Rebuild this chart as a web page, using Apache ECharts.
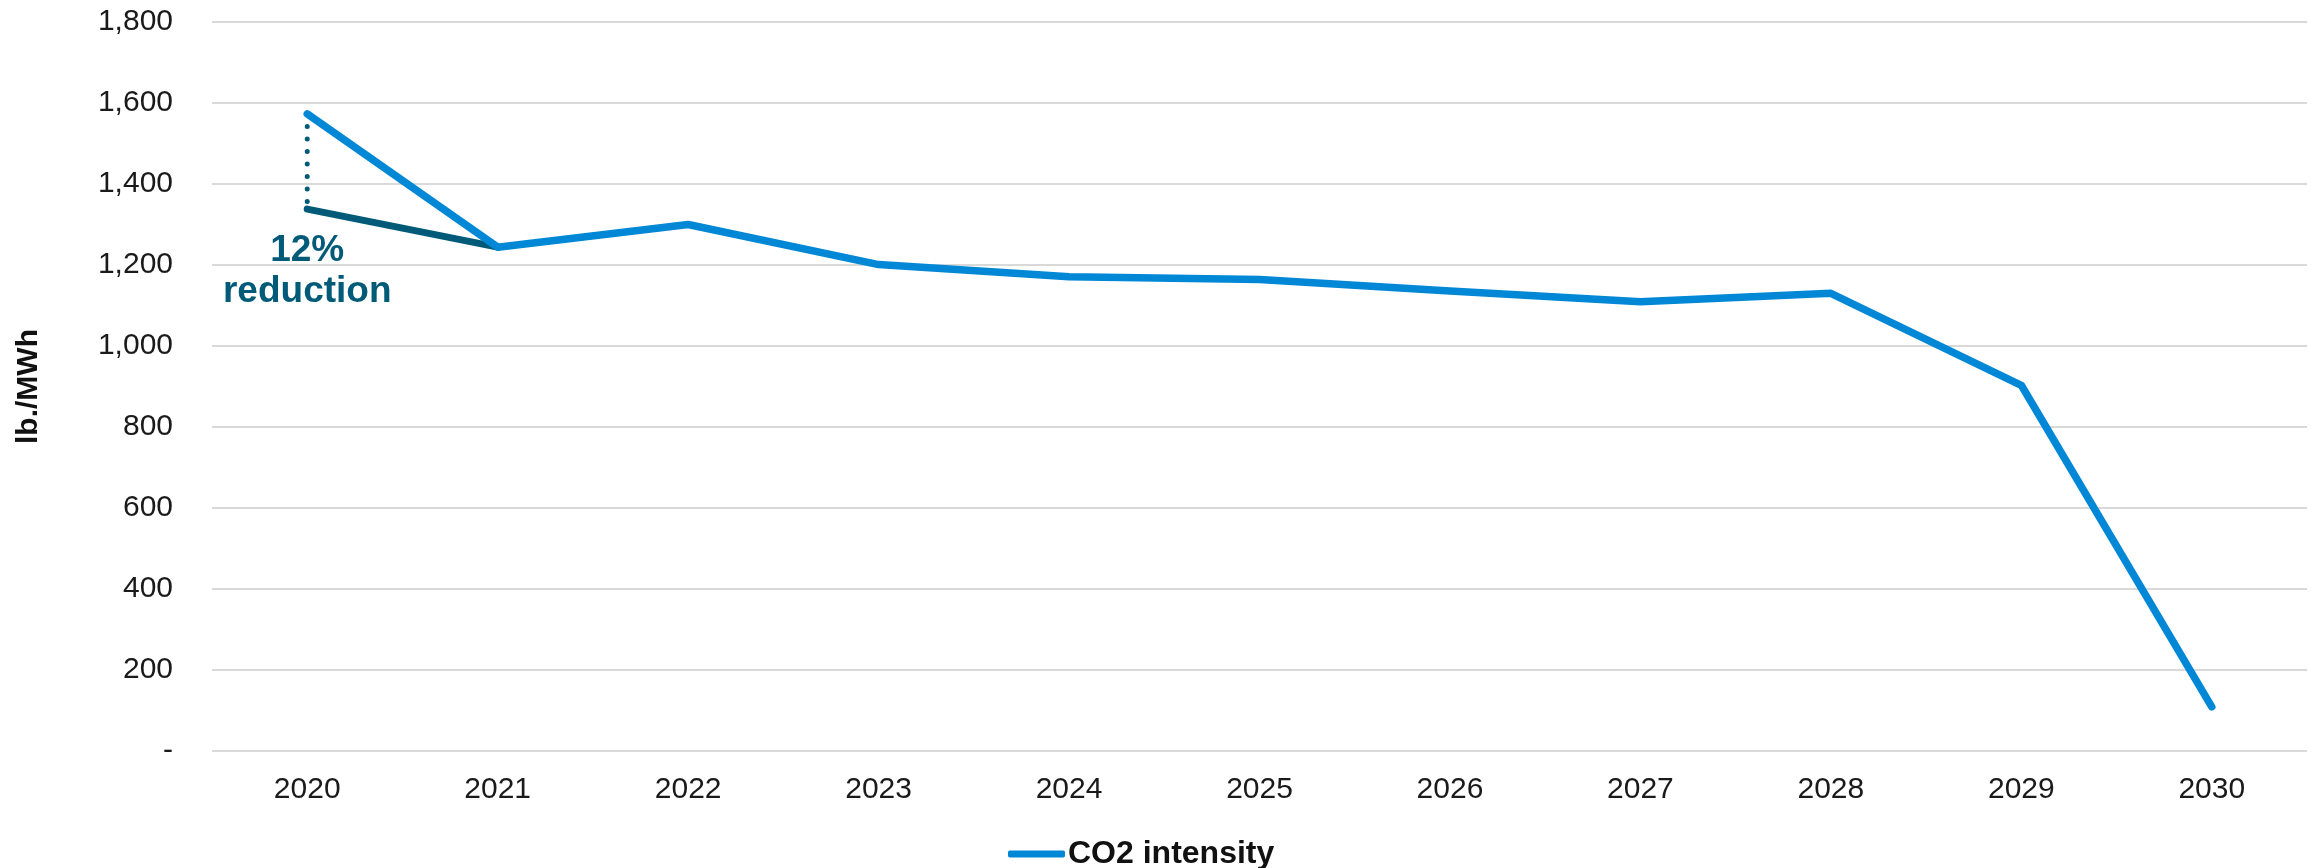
<!DOCTYPE html>
<html>
<head>
<meta charset="utf-8">
<title>CO2 intensity</title>
<script src="https://cdn.jsdelivr.net/npm/echarts@6/dist/echarts.min.js"></script>
<style>
  html, body { margin: 0; padding: 0; background: #ffffff; }
  #chart { width: 2318px; height: 868px; }
</style>
</head>
<body>
<div id="chart"></div>
<script>
// Years on the horizontal axis
const years = ['2020', '2021', '2022', '2023', '2024', '2025', '2026', '2027', '2028', '2029', '2030'];

// CO2 intensity, lb./MWh
const co2Intensity = [1573, 1244, 1300, 1201, 1171, 1164, 1136, 1109, 1130, 903, 109];

// Adjusted 2020 baseline running into the 2021 value
const adjustedPath = [1338, 1244];

// Vertical gap at 2020 between reported and adjusted baseline
const gapTop = 1573;
const gapBottom = 1338;

// Value axis ticks
const yMin = 0;
const yMax = 1800;
const yStep = 200;

const reductionText = ['12%', 'reduction'];

const FONT = '"Liberation Sans", Arial, sans-serif';
const BLUE = '#0088d6';
const TEAL = '#005a78';

const chart = echarts.init(document.getElementById('chart'), null, { renderer: 'canvas' });

chart.setOption({
  animation: false,
  backgroundColor: '#ffffff',
  grid: { left: 212, right: 11, top: 22, bottom: 117, containLabel: false },
  legend: {
    data: ['CO2 intensity'],
    left: 1003,
    top: 833,
    icon: 'roundRect',
    itemWidth: 57,
    itemHeight: 7,
    itemGap: 4,
    textStyle: { fontFamily: FONT, fontSize: 32, fontWeight: 'bold', color: '#111111', lineHeight: 32, padding: [0, 0, 0, -2] }
  },
  xAxis: {
    type: 'category',
    data: years,
    boundaryGap: true,
    axisLine: { show: false },
    axisTick: { show: false },
    axisLabel: { fontFamily: FONT, fontSize: 30, color: '#1a1a1a', margin: 24 }
  },
  yAxis: {
    type: 'value',
    min: yMin,
    max: yMax,
    interval: yStep,
    name: 'lb./MWh',
    nameLocation: 'middle',
    nameGap: 168,
    nameTextStyle: { fontFamily: FONT, fontSize: 30, fontWeight: 'bold', color: '#111111' },
    axisLine: { show: false },
    axisTick: { show: false },
    splitLine: { lineStyle: { color: '#d9d9d9', width: 2 } },
    axisLabel: {
      fontFamily: FONT, fontSize: 30, color: '#1a1a1a', margin: 39,
      formatter: v => v === 0 ? '-' : v.toLocaleString('en-US')
    }
  },
  series: [
    {
      name: 'adjusted',
      type: 'line',
      data: adjustedPath,
      symbol: 'none',
      lineStyle: { color: TEAL, width: 7, cap: 'round' },
      z: 3,
      markPoint: {
        symbol: 'circle',
        symbolSize: 0,
        silent: true,
        data: [{
          coord: [0, gapBottom],
          label: {
            show: true,
            position: 'bottom',
            distance: 21,
            formatter: '{a|' + reductionText[0] + '}\n{b|' + reductionText[1] + '}',
            rich: {
              a: { fontFamily: FONT, fontSize: 37, fontWeight: 'bold', color: TEAL, lineHeight: 41, align: 'center' },
              b: { fontFamily: FONT, fontSize: 37, fontWeight: 'bold', color: TEAL, lineHeight: 41, align: 'center' }
            }
          }
        }]
      }
    },
    {
      name: 'gap',
      type: 'line',
      data: [[years[0], gapTop], [years[0], gapBottom]],
      symbol: 'none',
      lineStyle: { color: TEAL, width: 5, type: [0, 12.5], cap: 'round' },
      z: 2
    },
    {
      name: 'CO2 intensity',
      type: 'line',
      data: co2Intensity,
      symbol: 'none',
      color: BLUE,
      lineStyle: { color: BLUE, width: 7.5, cap: 'round', join: 'round' },
      z: 4
    }
  ]
});
</script>
</body>
</html>
